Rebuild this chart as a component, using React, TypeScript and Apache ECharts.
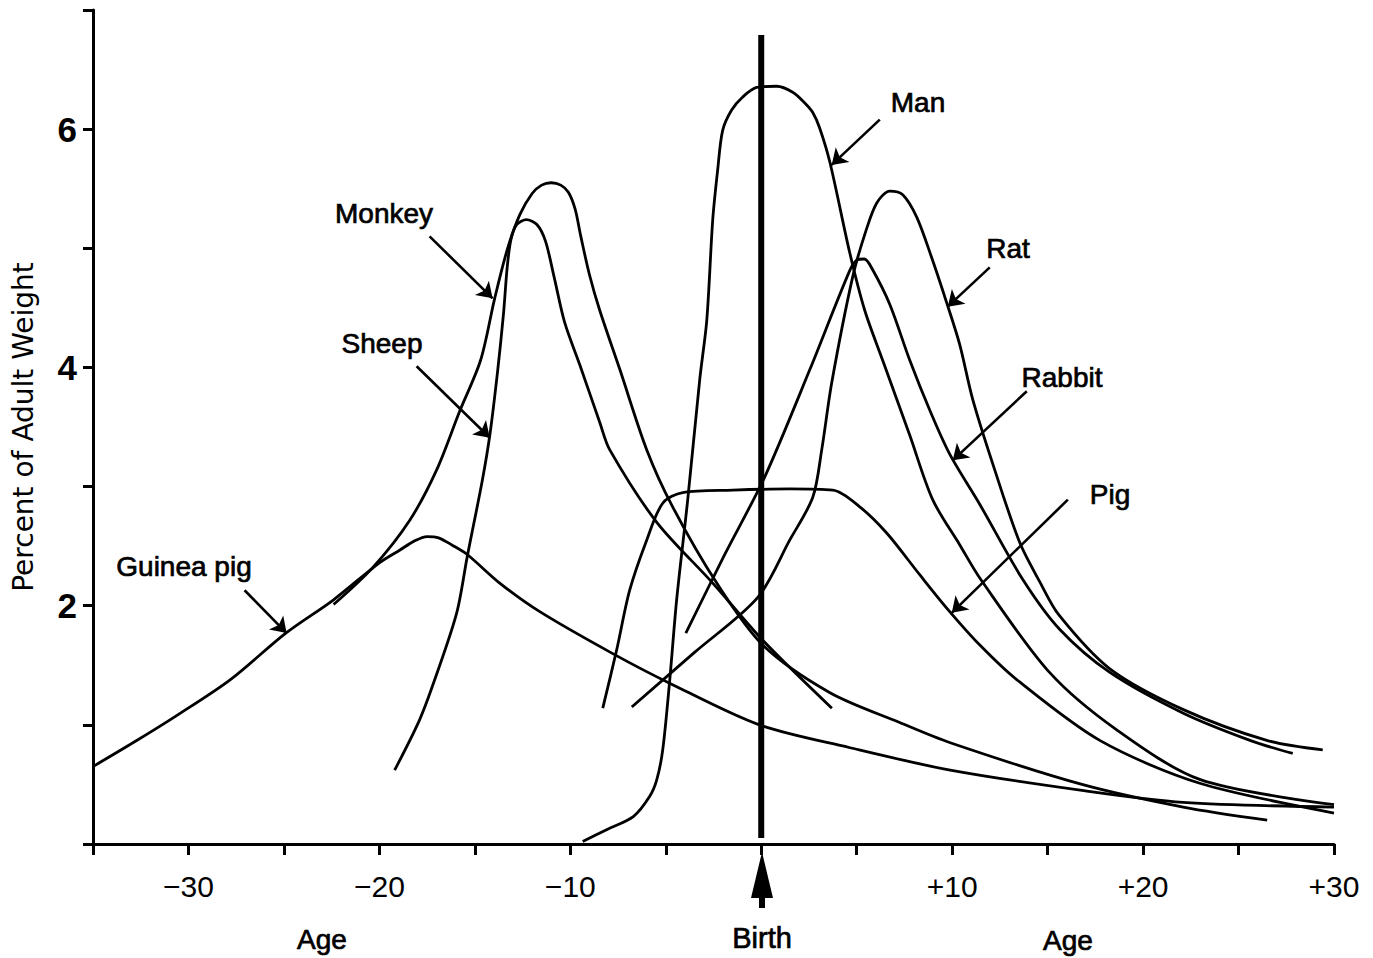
import React, { useEffect, useRef } from "react";
import * as echarts from "echarts";

// ---- data (age in units relative to birth, percent of adult weight) ----
const guineaPig: number[][] = [
  [-35, 0.65], [-32.8, 0.86], [-30.6, 1.08], [-27.8, 1.38], [-24.9, 1.77], [-22.4, 2.05],
  [-20.0, 2.36], [-18.9, 2.47], [-18.2, 2.54], [-17.5, 2.58], [-16.9, 2.57], [-16.2, 2.51],
  [-15.4, 2.43], [-13.7, 2.19], [-11.6, 1.95], [-7.8, 1.6], [-4.8, 1.35], [-0.1, 1.0],
  [4.6, 0.81], [9.9, 0.62], [16.8, 0.45], [22.1, 0.35], [30, 0.31],
];
const monkey: number[][] = [
  [-22.4, 2.01], [-20.35, 2.32], [-18.4, 2.72], [-17.0, 3.14], [-15.8, 3.63], [-14.7, 4.06],
  [-13.96, 4.58], [-13.3, 4.99], [-12.65, 5.28], [-12.0, 5.46], [-11.5, 5.53], [-11.0, 5.55],
  [-10.5, 5.53], [-10.1, 5.47], [-9.75, 5.33], [-9.45, 5.1], [-9.0, 4.78], [-8.46, 4.48],
  [-7.4, 3.98], [-6.0, 3.31], [-4.64, 2.83], [-2.33, 2.19], [0.08, 1.67], [3.6, 1.27],
  [7.25, 1.02], [9.9, 0.85], [16.8, 0.5], [22.1, 0.31], [26.5, 0.2],
];
const sheep: number[][] = [
  [-19.2, 0.62], [-17.9, 1.04], [-17.1, 1.38], [-15.95, 1.94], [-15.4, 2.41], [-14.6, 3.06],
  [-14.2, 3.45], [-13.8, 3.98], [-13.5, 4.45], [-13.3, 4.85], [-13.1, 5.08], [-12.8, 5.2],
  [-12.3, 5.24], [-11.75, 5.2], [-11.3, 5.06], [-10.85, 4.76], [-10.3, 4.38], [-9.5, 4.02],
  [-8.46, 3.54], [-7.94, 3.31], [-5.47, 2.7], [-2.54, 2.19], [0.08, 1.71], [3.7, 1.14],
];
const man: number[][] = [
  [-9.35, 0.02], [-8.1, 0.12], [-6.7, 0.23], [-5.84, 0.4], [-5.47, 0.54], [-5.16, 0.79],
  [-4.79, 1.38], [-4.43, 2.05], [-3.85, 2.89], [-3.22, 3.9], [-2.85, 4.4], [-2.54, 5.24],
  [-2.28, 5.66], [-2.02, 5.99], [-1.55, 6.16], [-0.97, 6.27], [-0.24, 6.35], [0.81, 6.36],
  [1.65, 6.31], [2.28, 6.22], [2.7, 6.14], [3.06, 6.01], [3.6, 5.72], [4.64, 4.96],
  [5.42, 4.48], [6.36, 4.06], [7.78, 3.43], [8.98, 2.89], [10.4, 2.51], [11.5, 2.22],
  [15.1, 1.44], [18.6, 0.96], [23.0, 0.54], [30, 0.33],
];
const pig: number[][] = [
  [-8.3, 1.14], [-7.57, 1.63], [-6.89, 2.13], [-6.0, 2.55], [-5.16, 2.86], [-4.11, 2.95],
  [-1.49, 2.97], [1.49, 2.98], [3.75, 2.97], [5.16, 2.83], [6.57, 2.61], [8.3, 2.26],
  [9.77, 1.97], [11.45, 1.67], [13.38, 1.38], [17.73, 0.87], [22.97, 0.51], [30, 0.26],
];
const rabbit: number[][] = [
  [-3.95, 1.77], [-1.91, 2.43], [0.18, 3.08], [2.54, 3.98], [4.6, 4.8], [5.0, 4.9],
  [5.4, 4.91], [5.8, 4.83], [6.73, 4.53], [7.78, 4.06], [8.83, 3.64], [9.88, 3.27],
  [11.45, 2.85], [13.7, 2.22], [15.64, 1.8], [18.26, 1.44], [22.08, 1.1], [25.6, 0.87], [27.84, 0.76],
];
const rat: number[][] = [
  [-6.78, 1.15], [-3.48, 1.61], [-0.18, 2.07], [1.49, 2.55], [2.7, 2.91], [3.17, 3.31],
  [3.69, 3.87], [4.79, 4.76], [5.47, 5.14], [6.05, 5.38], [6.73, 5.48], [7.41, 5.45],
  [8.15, 5.26], [8.93, 4.92], [9.72, 4.54], [10.4, 4.19], [11.08, 3.73], [12.23, 3.14],
  [13.54, 2.53], [14.59, 2.2], [15.6, 1.92], [18.26, 1.47], [22.08, 1.13], [26.48, 0.87], [29.41, 0.79],
];
const birthLine: number[][] = [[0, 0.05], [0, 6.79]];

// annotation arrows: [tail, tip]
const arrowMan = [[6.21, 6.08], [3.69, 5.7]];
const arrowRat = [[11.97, 4.84], [9.77, 4.51]];
const arrowRabbit = [[13.91, 3.8], [10.03, 3.22]];
const arrowPig = [[16.06, 2.89], [9.98, 1.94]];
const arrowMonkey = [[-17.37, 5.1], [-14.07, 4.58]];
const arrowSheep = [[-18.05, 4.01], [-14.22, 3.41]];
const arrowGuinea = [[-27.06, 2.13], [-24.86, 1.77]];

const xLabelValues = [-30, -20, -10, 10, 20, 30];
const yLabelValues = [2, 4, 6];
const yAxisTitle = "Percent of Adult Weight";

const FONT = "'Liberation Sans', Arial, Helvetica, sans-serif";

export default function App() {
  const ref = useRef<HTMLDivElement>(null);
  useEffect(() => {
    if (!ref.current) return;
    const chart = echarts.init(ref.current, undefined, { renderer: "svg" });
    const curve = (name: string, data: number[][]) => ({
      name,
      type: "line",
      data,
      smooth: 0.3,
      showSymbol: false,
      symbol: "none",
      lineStyle: { color: "#000", width: 2.8 },
      z: 3,
    });
    const arrows = [arrowMan, arrowRat, arrowRabbit, arrowPig, arrowMonkey, arrowSheep, arrowGuinea];
    const label = (text: string, x: number, y: number, size = 28) => ({
      type: "text",
      x,
      y,
      style: {
        text,
        fill: "#000",
        stroke: "#000",
        lineWidth: 0.7,
        font: `${size}px ${FONT}`,
        align: "center",
        verticalAlign: "middle",
      },
    });
    chart.setOption({
      animation: false,
      backgroundColor: "#fff",
      grid: { left: 93, top: 10, width: 1241, height: 834, outerBoundsMode: "none", containLabel: false },
      xAxis: {
        type: "value",
        min: -35,
        max: 30,
        interval: 5,
        splitLine: { show: false },
        axisLine: { onZero: false, lineStyle: { color: "#000", width: 3 } },
        axisTick: { length: 11, lineStyle: { color: "#000", width: 3 } },
        axisLabel: {
          color: "#000",
          fontSize: 30,
          fontFamily: FONT,
          margin: 27,
          formatter: (v: number) =>
            xLabelValues.includes(v) ? (v > 0 ? "+" + v : "\u2212" + -v) : "",
        },
      },
      yAxis: {
        type: "value",
        min: 0,
        max: 7,
        interval: 1,
        splitLine: { show: false },
        axisLine: { onZero: false, lineStyle: { color: "#000", width: 3 } },
        axisTick: { length: 10, lineStyle: { color: "#000", width: 3 } },
        axisLabel: {
          color: "#000",
          fontSize: 35,
          fontWeight: "bold",
          fontFamily: FONT,
          margin: 16,
          formatter: (v: number) => (yLabelValues.includes(v) ? String(v) : ""),
        },
        name: yAxisTitle,
        nameLocation: "middle",
        nameRotate: 90,
        nameGap: 56,
        nameTextStyle: { color: "#000", fontSize: 28, fontFamily: "'DejaVu Sans', sans-serif" },
      },
      series: [
        curve("Guinea pig", guineaPig),
        curve("Monkey", monkey),
        curve("Sheep", sheep),
        curve("Man", man),
        curve("Pig", pig),
        curve("Rabbit", rabbit),
        curve("Rat", rat),
        {
          name: "Birth",
          type: "line",
          data: birthLine,
          showSymbol: false,
          symbol: "none",
          lineStyle: { color: "#000", width: 6 },
          z: 4,
        },
        {
          name: "arrows",
          type: "lines",
          coordinateSystem: "cartesian2d",
          symbol: ["none", "arrow"],
          symbolSize: 15,
          lineStyle: { color: "#000", width: 2.6, opacity: 1 },
          data: arrows.map((a) => ({ coords: a })),
          z: 5,
        },
      ],
      graphic: [
        label("Man", 918, 102),
        label("Rat", 1008, 248),
        label("Rabbit", 1062, 377),
        label("Pig", 1110, 494),
        label("Monkey", 384, 213),
        label("Sheep", 382, 343),
        label("Guinea pig", 184, 566),
        label("Age", 322, 939, 28),
        label("Birth", 762, 938, 29),
        label("Age", 1068, 940, 28),
        {
          type: "line",
          shape: { x1: 762, y1: 908, x2: 762, y2: 880 },
          style: { stroke: "#000", lineWidth: 6 },
        },
        {
          type: "polygon",
          shape: { points: [[762, 852], [751, 898], [773, 898]] },
          style: { fill: "#000" },
        },
      ],
    });
    return () => chart.dispose();
  }, []);
  return (
    <div
      ref={ref}
      style={{ position: "fixed", left: 0, top: 0, width: 1373, height: 958, background: "#fff" }}
    />
  );
}
